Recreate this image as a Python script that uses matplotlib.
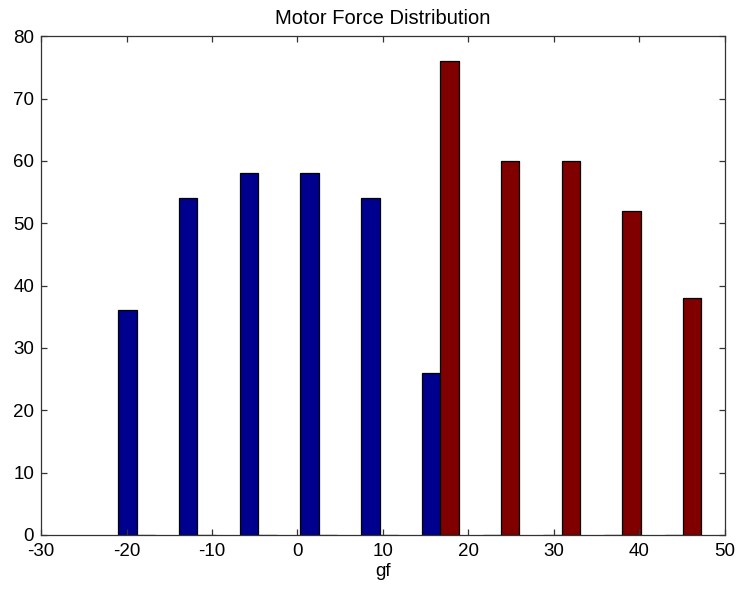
import numpy as np
import matplotlib.pyplot as plt

# bin centers (gf) and counts
centers = [-18.8, -11.7, -4.6, 2.5, 9.6, 16.7, 23.8, 30.9, 38.0, 45.1]
counts_blue = [36, 54, 58, 58, 54, 26, 0, 0, 0, 0]
counts_red = [0, 0, 0, 0, 0, 76, 60, 60, 52, 38]

plt.rcParams['font.family'] = ['Liberation Sans', 'DejaVu Sans']
plt.rcParams['axes.unicode_minus'] = False

fig = plt.figure(figsize=(7.39, 5.93), dpi=100)
ax = fig.add_axes([0.0555, 0.098, 0.9255, 0.841])

w = 2.15
x = np.array(centers)
ax.bar(x - w/2, counts_blue, width=w, color='#00008f', edgecolor='k', linewidth=0.9)
ax.bar(x + w/2, counts_red, width=w, color='#800000', edgecolor='k', linewidth=0.9)

ax.set_xlim(-30, 50)
ax.set_ylim(0, 80)
ax.set_xticks(range(-30, 51, 10))
ax.set_yticks(range(0, 81, 10))
ax.tick_params(direction='in', top=True, right=True, length=4, width=0.9,
               labelsize=13.5, color='#333333')
ax.tick_params(axis='x', pad=6)
ax.tick_params(axis='y', pad=5)
for s in ax.spines.values():
    s.set_linewidth(0.9)
    s.set_color('#333333')

ax.set_title('Motor Force Distribution', fontsize=14.5, pad=9)
ax.set_xlabel('gf', fontsize=13.5, labelpad=2)

plt.savefig('out.png', dpi=100)
